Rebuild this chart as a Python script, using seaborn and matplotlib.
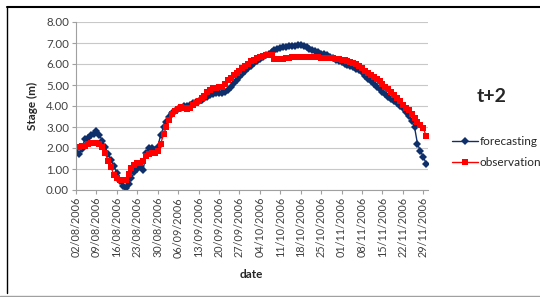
import matplotlib
matplotlib.use('Agg')
import matplotlib.pyplot as plt
import matplotlib.dates as mdates
from matplotlib.lines import Line2D
import seaborn as sns
import pandas as pd

# Data: daily stage values, 02/08/2006 - 30/11/2006
start_date = '2006-08-02'
forecasting = [
    1.82, 1.70, 1.95, 2.42, 2.50, 2.60, 2.68, 2.80, 2.62, 2.35,
    2.05, 1.72, 1.42, 1.15, 0.80, 0.45, 0.20, 0.10, 0.28, 0.58,
    0.85, 1.00, 1.12, 0.95, 1.75, 2.02, 1.98, 1.92, 2.05, 2.62,
    3.00, 3.25, 3.50, 3.65, 3.78, 3.85, 3.92, 3.98, 4.02, 4.05,
    4.12, 4.18, 4.22, 4.30, 4.38, 4.45, 4.52, 4.58, 4.60, 4.62,
    4.62, 4.68, 4.78, 4.92, 5.08, 5.25, 5.38, 5.52, 5.65, 5.80,
    5.92, 6.05, 6.15, 6.22, 6.32, 6.42, 6.50, 6.58, 6.65, 6.72,
    6.76, 6.80, 6.83, 6.85, 6.87, 6.88, 6.90, 6.90, 6.86, 6.80,
    6.72, 6.66, 6.60, 6.55, 6.50, 6.46, 6.42, 6.35, 6.28, 6.20,
    6.13, 6.08, 6.02, 5.96, 5.90, 5.85, 5.78, 5.70, 5.60, 5.45,
    5.30, 5.18, 5.05, 4.92, 4.80, 4.68, 4.56, 4.45, 4.35, 4.25,
    4.12, 4.00, 3.90, 3.72, 3.52, 3.30, 2.98, 2.20, 1.85, 1.58,
    1.25,
]
observation = [
    2.06, 2.06, 2.08, 2.10, 2.18, 2.22, 2.22, 2.22, 2.20, 2.05,
    1.75, 1.40, 1.10, 0.70, 0.55, 0.50, 0.48, 0.50, 0.75, 1.05,
    1.20, 1.28, 1.30, 1.40, 1.60, 1.70, 1.75, 1.78, 1.85, 2.20,
    2.65, 3.00, 3.35, 3.60, 3.78, 3.88, 3.95, 3.92, 3.88, 3.92,
    4.05, 4.15, 4.25, 4.38, 4.50, 4.65, 4.78, 4.85, 4.88, 4.90,
    4.92, 5.05, 5.22, 5.35, 5.48, 5.58, 5.68, 5.80, 5.92, 6.02,
    6.12, 6.20, 6.28, 6.35, 6.40, 6.42, 6.45, 6.42, 6.25, 6.22,
    6.24, 6.26, 6.28, 6.30, 6.32, 6.33, 6.34, 6.34, 6.34, 6.33,
    6.33, 6.32, 6.32, 6.31, 6.30, 6.30, 6.29, 6.28, 6.27, 6.25,
    6.23, 6.20, 6.18, 6.15, 6.10, 6.05, 5.98, 5.90, 5.80, 5.68,
    5.58, 5.48, 5.38, 5.28, 5.18, 5.05, 4.92, 4.80, 4.68, 4.52,
    4.38, 4.22, 4.05, 3.92, 3.80, 3.62, 3.45, 3.25, 3.10, 2.95,
    2.55,
]
y_ticks = [0, 1, 2, 3, 4, 5, 6, 7, 8]

dates = pd.date_range(start_date, periods=len(forecasting), freq='D')
df = pd.DataFrame({'date': dates, 'forecasting': forecasting, 'observation': observation})

sns.set_style('white')
plt.rcParams['font.family'] = ['Lato', 'DejaVu Sans']

fig = plt.figure(figsize=(5.4, 2.97), dpi=100)
ax = fig.add_axes([76 / 540, 1 - 190 / 297, 352 / 540, 168 / 297])

sns.lineplot(data=df, x='date', y='forecasting', ax=ax, color='#0F2F6B', lw=1.0,
             marker='D', markersize=4.4, markeredgewidth=0, label='forecasting')
sns.lineplot(data=df, x='date', y='observation', ax=ax, color='#FF0000', lw=1.0,
             marker='s', markersize=4.0, markeredgewidth=0, label='observation')

ax.set_ylim(0, 8)
ax.set_yticks(y_ticks)
ax.set_yticklabels([f'{v:.2f}' for v in y_ticks], fontsize=8.3, color='#404040')
ax.set_xlim(dates[0], dates[0] + pd.Timedelta(days=120.6))
ax.set_xticks(pd.date_range(start_date, '2006-11-29', freq='7D'))
ax.xaxis.set_major_formatter(mdates.DateFormatter('%d/%m/%Y'))
ax.tick_params(axis='x', labelrotation=90, labelsize=7.8, labelcolor='#404040',
               length=3, width=0.8, color='#A0A0A0', bottom=True, pad=2)
ax.tick_params(axis='y', length=3, width=0.8, color='#A0A0A0', left=True, pad=2)
ax.grid(axis='y', color='#C8C8C8', lw=0.8)
ax.grid(axis='x', visible=False)
for side in ['top', 'right']:
    ax.spines[side].set_visible(False)
for side in ['left', 'bottom']:
    ax.spines[side].set_color('#A0A0A0')
    ax.spines[side].set_linewidth(0.8)

ax.set_xlabel('')
ax.set_ylabel('')
fig.text(251 / 540, 1 - 274 / 297, 'date', fontsize=8.5, fontweight='bold',
         ha='center', va='center')
fig.text(32 / 540, 1 - 106 / 297, 'Stage (m)', fontsize=8.5, fontweight='bold',
         ha='center', va='center', rotation=90)

ax.legend_.remove()
handles, labels = ax.get_legend_handles_labels()
fig.legend(handles, labels, loc='center left', bbox_to_anchor=(441 / 540, 1 - 152 / 297),
           frameon=False, fontsize=8.5, handlelength=2.2, handletextpad=0.15,
           labelspacing=0.9)

fig.text(492 / 540, 1 - 96 / 297, 't+2', fontsize=14, fontweight='bold',
         ha='center', va='center')

# chart frame
fig.add_artist(Line2D([7 / 540, 1], [1 - 7 / 297, 1 - 7 / 297], color='black', lw=1.5))
fig.add_artist(Line2D([7 / 540, 7 / 540], [1 - 7 / 297, 1 - 293 / 297], color='black', lw=1.0))
fig.add_artist(Line2D([0, 1], [1 - 295.5 / 297, 1 - 295.5 / 297], color='#A0A0A0', lw=1.0))

fig.savefig('out.png', dpi=100)
